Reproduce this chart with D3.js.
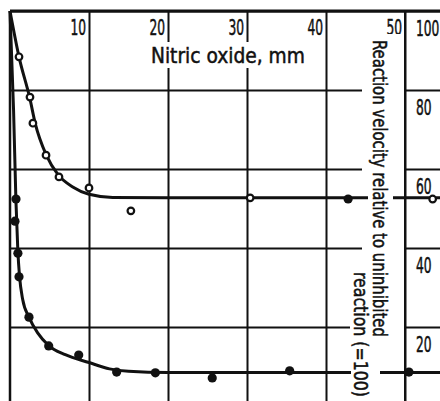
<!DOCTYPE html>
<html>
<head>
<meta charset="utf-8">
<script src="https://cdn.jsdelivr.net/npm/d3@7"></script>
<style>
  html, body { margin: 0; padding: 0; background: #fff; }
  svg { display: block; }
  .lbl { font-family: "Liberation Sans Narrow", "DejaVu Sans Condensed", "Arial Narrow", sans-serif; fill: #111; stroke: #111; stroke-width: 0.5px; }
</style>
</head>
<body>
<div id="chart"></div>
<script>
// tick values
const xTicks = [10, 20, 30, 40, 50];
const yTicks = [100, 80, 60, 40, 20];

// open circles (upper series) - nitric oxide mm, relative velocity
const openX = [1.14, 2.53, 2.9, 4.56, 6.2, 10.0, 15.3, 30.4, 53.5];
const openY = [88.4, 78.2, 71.6, 63.5, 58.0, 55.2, 49.4, 52.7, 52.4];

// filled dots (lower series)
const fillX = [0.76, 0.63, 1.0, 1.14, 2.4, 4.9, 8.7, 13.5, 18.4, 25.6, 35.4, 50.5];
const fillY = [52.4, 46.8, 38.7, 32.7, 22.5, 15.2, 12.9, 8.6, 8.4, 7.1, 8.9, 8.6];

// odd filled dot sitting on the upper plateau
const extraX = [42.8];
const extraY = [52.4];

// drawn curves
const upperCurveX = [0, 1.14, 2.5, 3.2, 4.6, 6.1, 8, 10, 13, 20, 54.5];
const upperCurveY = [100, 88.4, 78, 71.5, 63.5, 58.5, 55.4, 53.6, 52.8, 52.7, 52.7];
const lowerCurveX = [0, 0.45, 0.75, 1.0, 1.2, 1.6, 2.4, 3.5, 4.9, 7, 10, 12.6, 15, 20, 54.5];
const lowerCurveY = [100, 75, 52, 39, 33, 27, 22.5, 18.5, 15.3, 13.0, 11.0, 9.4, 8.8, 8.5, 8.5];

const W = 440, H = 401;
const squeeze = 0.62; // condense the digits like the printed face

const svg = d3.select('#chart').append('svg')
    .attr('width', W)
    .attr('height', H);

svg.append('rect').attr('width', W).attr('height', H).attr('fill', '#fff');

const x = d3.scaleLinear().domain([0, 50]).range([10, 405]);
const y = d3.scaleLinear().domain([0, 100]).range([406, 11]);

// squeeze a text horizontally so it runs exactly `len` px
function fitText(sel, pre, len) {
    const natural = sel.node().getComputedTextLength();
    sel.attr('transform', `${pre} scale(${len / natural},1)`);
}

// vertical grid + top labels
const xAxis = d3.axisTop(x).tickValues(xTicks).tickSize(-(H - 11)).tickSizeOuter(0);
const xg = svg.append('g').attr('transform', 'translate(0,11)').call(xAxis);
xg.select('.domain').remove();
xg.selectAll('.tick line').attr('stroke', '#111').attr('stroke-width', 2);
xg.selectAll('.tick text')
    .attr('class', 'lbl')
    .attr('x', 0).attr('y', 0).attr('dy', 0)
    .attr('transform', `translate(-3.5,24) scale(${squeeze},1)`)
    .attr('text-anchor', 'end')
    .style('font-size', '22px');

// horizontal grid + right labels
const yAxis = d3.axisLeft(y).tickValues(yTicks).tickSize(W - 10).tickSizeOuter(0);
const yg = svg.append('g').attr('transform', `translate(${W},0)`).call(yAxis);
yg.select('.domain').remove();
yg.selectAll('.tick line').attr('stroke', '#111').attr('stroke-width', 2);
yg.selectAll('.tick text')
    .attr('class', 'lbl')
    .attr('x', 0).attr('y', 0).attr('dy', 0)
    .attr('transform', `translate(-24,24) scale(${squeeze},1)`)
    .attr('text-anchor', 'start')
    .style('font-size', '22px');

// frame: top border and left axis
svg.append('line').attr('x1', x(0)).attr('x2', W).attr('y1', y(100)).attr('y2', y(100))
    .attr('stroke', '#111').attr('stroke-width', 3);
svg.append('line').attr('x1', x(0)).attr('x2', x(0)).attr('y1', y(100)).attr('y2', H)
    .attr('stroke', '#111').attr('stroke-width', 2.5);
svg.append('line').attr('x1', x(50)).attr('x2', x(50)).attr('y1', y(100)).attr('y2', H)
    .attr('stroke', '#111').attr('stroke-width', 2);

// knock gridlines out behind the rotated label
svg.append('rect').attr('x', 362).attr('y', 34).attr('width', 42).attr('height', 308).attr('fill', '#fff');
svg.append('rect').attr('x', 350).attr('y', 266).attr('width', 54).attr('height', 135).attr('fill', '#fff');
// and behind the title
svg.append('rect').attr('x', 148).attr('y', 42).attr('width', 160).attr('height', 26).attr('fill', '#fff');

const upper = upperCurveX.map((v, i) => [v, upperCurveY[i]]);
const lower = lowerCurveX.map((v, i) => [v, lowerCurveY[i]]);

const curves = svg.append('g');
curves.append('path').datum(upper)
    .attr('d', d3.line().x(d => x(d[0])).y(d => y(d[1])).curve(d3.curveMonotoneX))
    .attr('fill', 'none').attr('stroke', '#111').attr('stroke-width', 3);
curves.append('path').datum(lower)
    .attr('d', d3.line().x(d => x(d[0])).y(d => y(d[1])).curve(d3.curveMonotoneX))
    .attr('fill', 'none').attr('stroke', '#111').attr('stroke-width', 3);

// open circles
svg.append('g').selectAll('circle')
    .data(openX.map((v, i) => [v, openY[i]]))
    .enter().append('circle')
    .attr('cx', d => x(d[0])).attr('cy', d => y(d[1]))
    .attr('r', 3.3)
    .attr('fill', '#fff').attr('stroke', '#111').attr('stroke-width', 2.2);

// filled dots
svg.append('g').selectAll('circle')
    .data(fillX.map((v, i) => [v, fillY[i]]).concat(extraX.map((v, i) => [v, extraY[i]])))
    .enter().append('circle')
    .attr('cx', d => x(d[0])).attr('cy', d => y(d[1]))
    .attr('r', 4.6)
    .attr('fill', '#111');

// narrower knockouts so the curves break only at the text
svg.append('rect').attr('x', 368).attr('y', 34).attr('width', 25).attr('height', 308).attr('fill', '#fff');
svg.append('rect').attr('x', 351).attr('y', 266).attr('width', 29).attr('height', 135).attr('fill', '#fff');

// title
const title = svg.append('text').attr('class', 'lbl')
    .style('font-size', '22px')
    .text('Nitric oxide, mm');
fitText(title, 'translate(151,63)', 154);

// rotated right-hand label
const yl1 = svg.append('text').attr('class', 'lbl')
    .style('font-size', '19px')
    .text('Reaction velocity relative to uninhibited');
fitText(yl1, 'translate(373,40) rotate(90)', 297);
const yl2 = svg.append('text').attr('class', 'lbl')
    .style('font-size', '19px')
    .text('reaction (=100)');
fitText(yl2, 'translate(354,272) rotate(90)', 125);
</script>
</body>
</html>
